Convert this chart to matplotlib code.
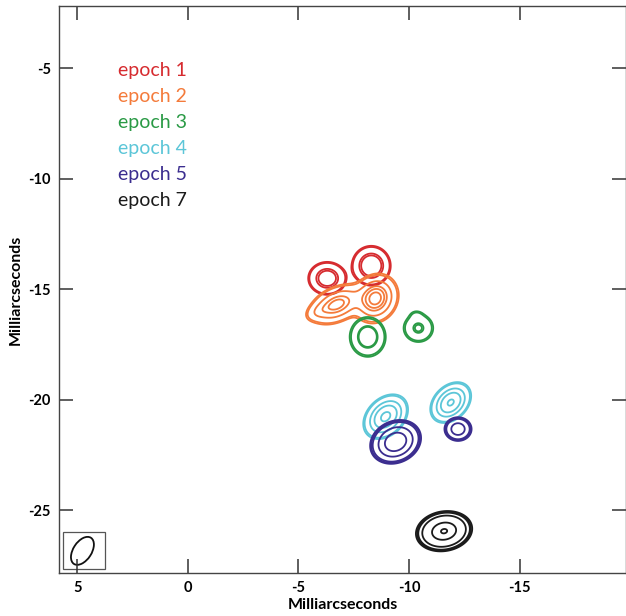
import numpy as np
import matplotlib.pyplot as plt
from matplotlib.patches import Rectangle, Ellipse

plt.rcParams['font.family'] = ['Lato', 'DejaVu Sans']

## epochs and colours
epochs = ["epoch 1", "epoch 2", "epoch 3", "epoch 4", "epoch 5", "epoch 7"]
colors = ["#d62b2f", "#f47b3b", "#2a9a45", "#5cc6d8", "#3b2d8f", "#1b1b1b"]

## gaussian components per epoch: (x, y, sigma_major, sigma_minor, angle_deg, amp)
comps = [
    [(-6.30, -14.50, 0.415, 0.36, 0, 0.85),
     (-8.29, -13.93, 0.42, 0.41, 90, 1.0)],
    [(-6.74, -15.68, 0.62, 0.37, 155, 0.8),
     (-8.48, -15.41, 0.52, 0.45, 120, 1.0),
     (-5.90, -16.00, 0.35, 0.20, 155, 0.15)],
    [(-8.13, -17.15, 0.42, 0.38, 90, 1.0),
     (-10.42, -16.75, 0.35, 0.33, 0, 0.62),
     (-10.32, -16.15, 0.20, 0.15, 0, 0.10)],
    [(-8.94, -20.76, 0.53, 0.38, 135, 1.0),
     (-11.88, -20.12, 0.49, 0.35, 135, 0.95)],
    [(-9.39, -21.90, 0.53, 0.42, 155, 1.0),
     (-12.21, -21.32, 0.32, 0.28, 0, 0.5)],
    [(-11.58, -25.94, 0.57, 0.40, 170, 1.0)],
]

## contour levels (absolute, peak ~1)
levels = [
    [0.10, 0.13, 0.42, 0.54],
    [0.08, 0.11, 0.30, 0.55, 0.70, 0.87],
    [0.10, 0.14, 0.50, 0.56],
    [0.09, 0.12, 0.31, 0.55, 0.90],
    [0.08, 0.10, 0.13, 0.32, 0.64],
    [0.08, 0.10, 0.12, 0.22, 0.63, 0.97],
]

## restoring beam
beam_center = (4.76, -26.83)
beam_major, beam_minor, beam_pa = 1.41, 0.83, 123
beam_box = (3.75, -27.66, 1.91, 1.70)

xt = [5, 0, -5, -10, -15]
yt = [-5, -10, -15, -20, -25]

x = np.arange(-20, 6, 0.02)
y = np.arange(-28, -2, 0.02)
X, Y = np.meshgrid(x, y)

def model(cl):
    z = np.zeros_like(X)
    for (x0, y0, a, b, ang, amp) in cl:
        t = np.deg2rad(ang)
        dx = X - x0
        dy = Y - y0
        u = dx*np.cos(t) + dy*np.sin(t)
        v = -dx*np.sin(t) + dy*np.cos(t)
        z += amp*np.exp(-0.5*((u/a)**2 + (v/b)**2))
    return z

fig = plt.figure(figsize=(6.26, 6.16), dpi=100)
ax = fig.add_axes([0.0942, 0.0706, 0.9058, 0.9192])

for cl, lv, c in zip(comps, levels, colors):
    z = model(cl)
    ax.contour(X, Y, z, levels=lv, colors=c, linewidths=1.3)

## legend text
for i, (name, c) in enumerate(zip(epochs, colors)):
    ax.text(3.16, -5.08 - 1.177*i, name, color=c, fontsize=14, va='center', ha='left')

## beam
ax.add_patch(Rectangle((beam_box[0], beam_box[1]), beam_box[2], beam_box[3],
                       fill=False, ec='#555555', lw=0.9))
ax.add_patch(Ellipse(beam_center, beam_major, beam_minor, angle=beam_pa,
                     fill=False, ec='#111111', lw=1.3))

ax.set_xlim(5.82, -19.8)
ax.set_ylim(-27.81, -2.19)
ax.set_xticks(xt)
ax.set_yticks(yt)
ax.set_xticklabels([str(v) for v in xt], fontweight='bold', fontsize=10.5)
ax.set_yticklabels([str(v) for v in yt], fontweight='bold', fontsize=10.5)
ax.tick_params(direction='in', length=10, width=1.1, top=True, right=True, pad=6, color='#333333')
for s in ax.spines.values():
    s.set_color('#444444')
    s.set_linewidth(1.0)
ax.set_xlabel("Milliarcseconds", fontweight='bold', fontsize=11.5, labelpad=2)
ax.set_ylabel("Milliarcseconds", fontweight='bold', fontsize=11.5, labelpad=4)

plt.savefig("out.png", dpi=100)
